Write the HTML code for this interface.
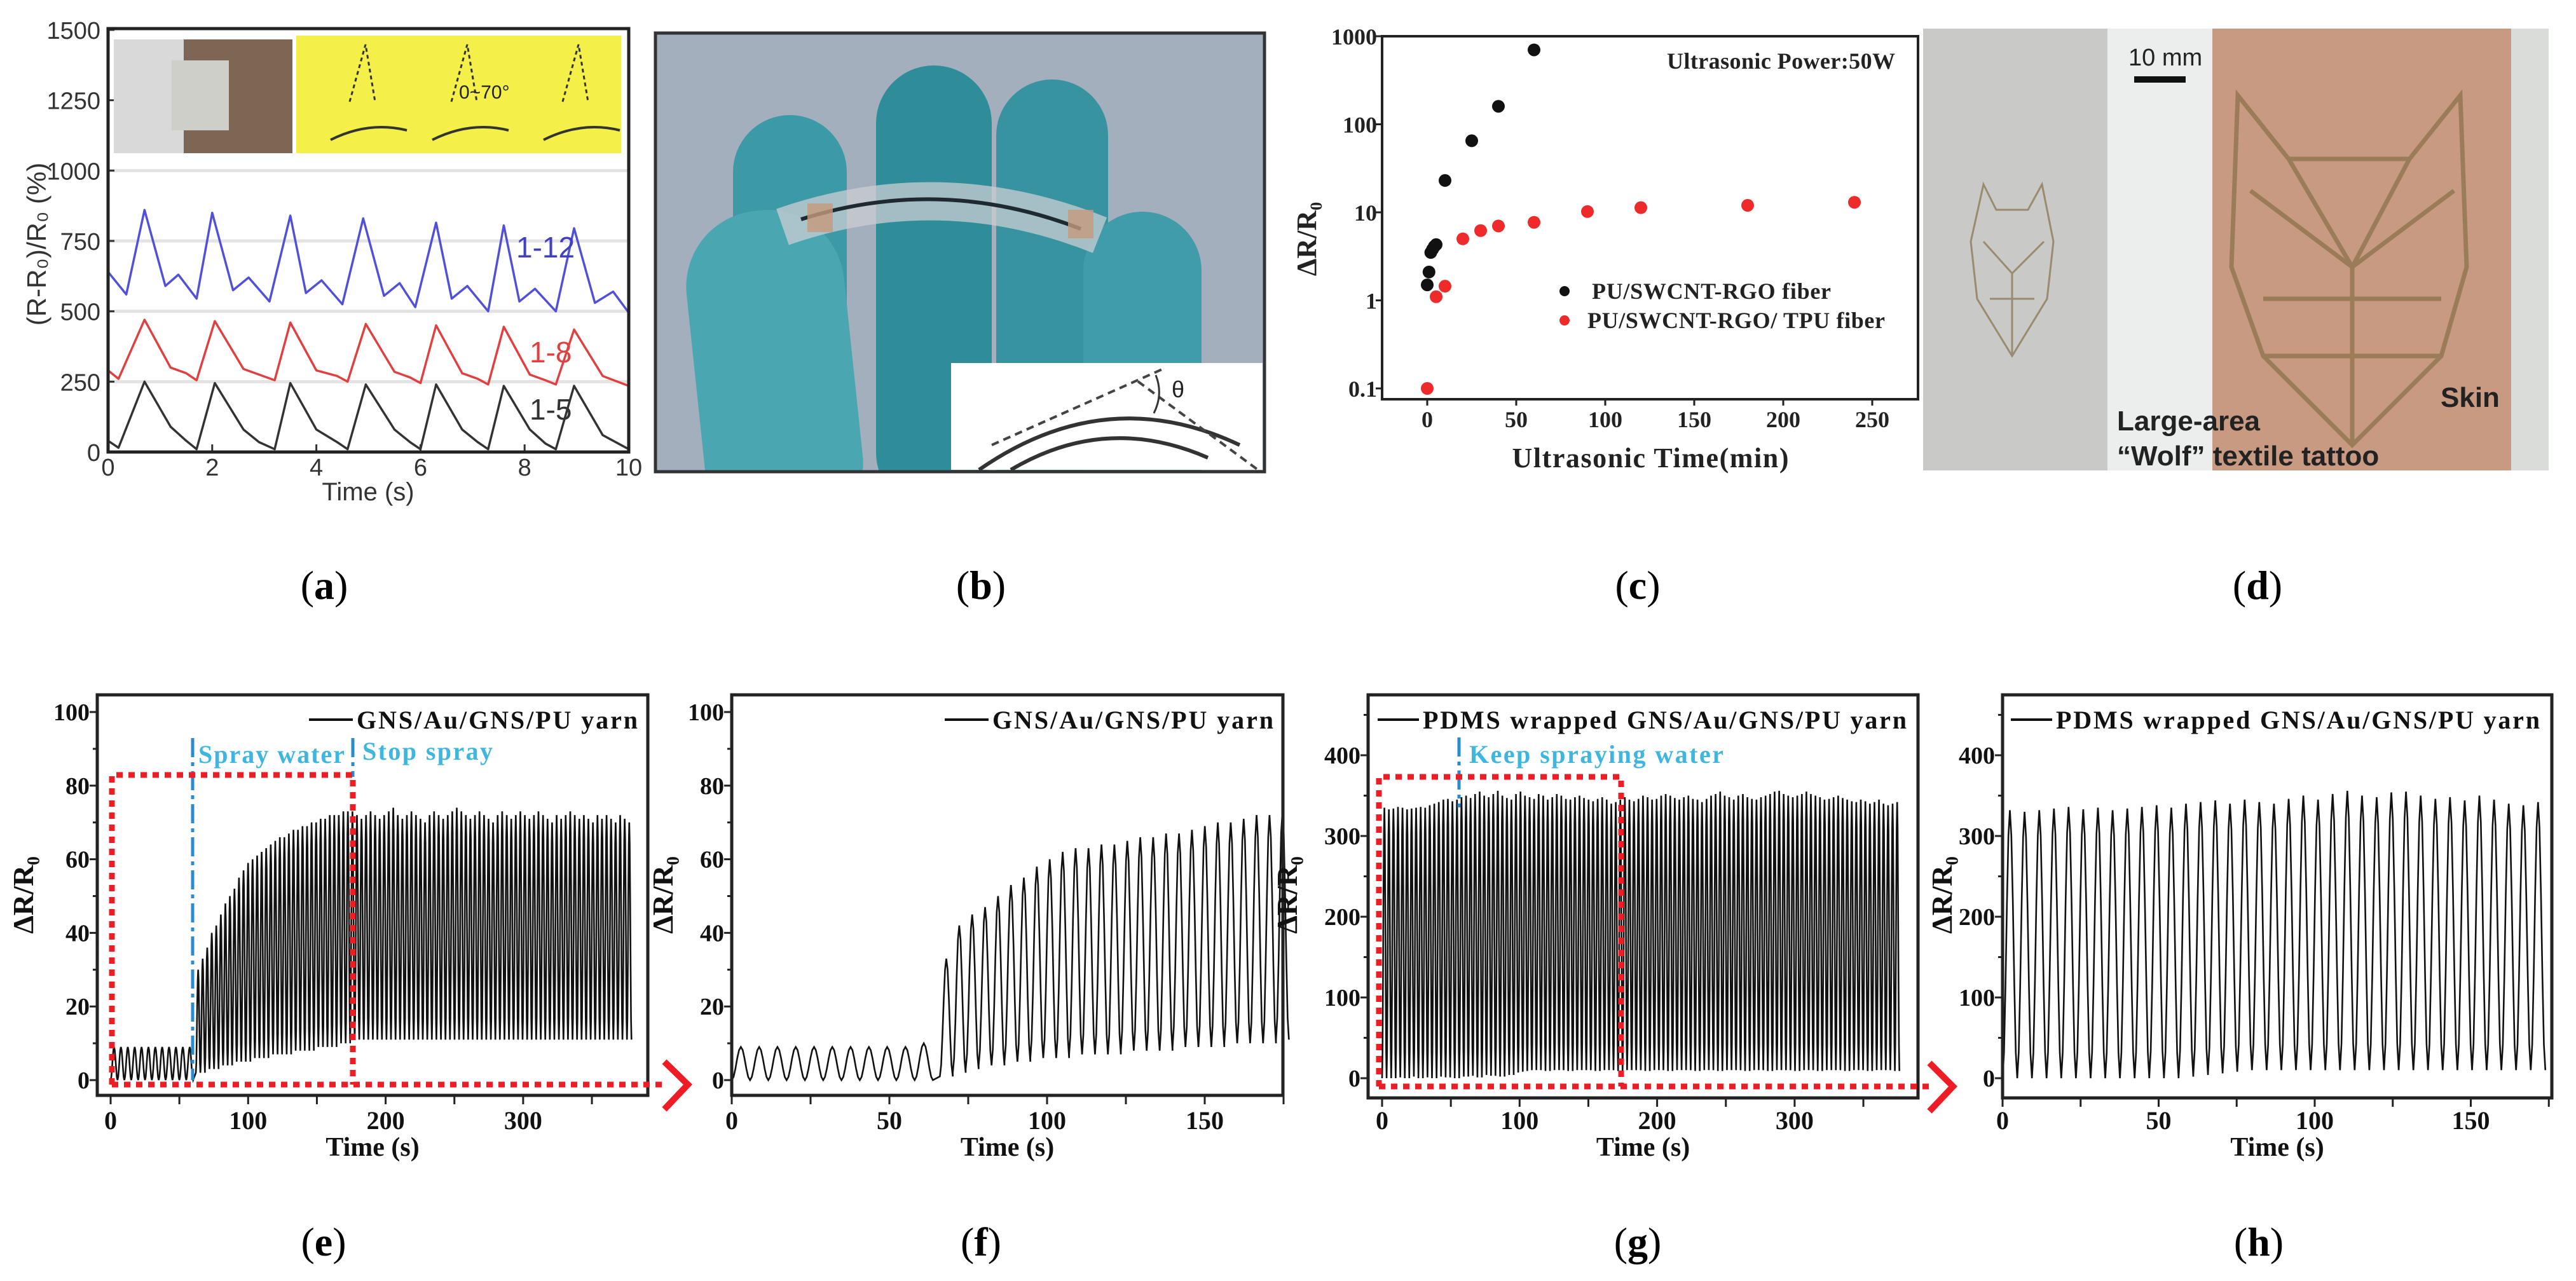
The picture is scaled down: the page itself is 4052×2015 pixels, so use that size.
<!DOCTYPE html>
<html><head><meta charset="utf-8"><title>Composite sensor figure</title>
<style>
html,body{margin:0;padding:0;background:#fff;}
svg{display:block;}
.ser{font-family:"Liberation Serif",serif;font-weight:bold;}
.san{font-family:"Liberation Sans",sans-serif;}
.lbl{font-family:"Liberation Serif",serif;font-size:64px;}
</style></head>
<body>
<svg id="fig" width="4052" height="2015" viewBox="0 0 4052 2015" xmlns="http://www.w3.org/2000/svg">
<defs>
  <clipPath id="clipB"><rect x="1031" y="52" width="958" height="690"/></clipPath>
</defs>
<rect x="0" y="0" width="4052" height="2015" fill="#fff"/>

<!-- panel b photo -->
<g>
  <rect x="1031" y="52" width="958" height="690" fill="#a3afbd"/>
  <g clip-path="url(#clipB)">
    <rect x="1378" y="103" width="182" height="700" rx="91" fill="#2f8c99"/>
    <rect x="1567" y="125" width="176" height="700" rx="88" fill="#37939f"/>
    <rect x="1153" y="181" width="179" height="650" rx="90" fill="#3c9aa6"/>
    <rect x="1704" y="333" width="186" height="500" rx="93" fill="#3f9ca8"/>
    <rect x="1094" y="330" width="249" height="520" rx="120" fill="#4aa7b2" transform="rotate(-6 1218 590)"/>
    <path d="M1231 357 Q1480 270 1730 370" stroke="#c9ced2" stroke-width="60" fill="none" opacity="0.75"/>
    <path d="M1260 345 Q1480 275 1700 360" stroke="#1e2a30" stroke-width="6" fill="none"/>
    <rect x="1270" y="320" width="40" height="45" fill="#c79a7c" opacity="0.8"/>
    <rect x="1680" y="330" width="40" height="45" fill="#c79a7c" opacity="0.8"/>
  </g>
  <rect x="1031" y="52" width="958" height="690" fill="none" stroke="#333" stroke-width="5"/>
  <rect x="1496" y="571" width="490" height="168" fill="#fff"/>
  <path d="M1540 739 Q1740 600 1950 700" stroke="#333" stroke-width="6" fill="none"/>
  <path d="M1590 739 Q1740 650 1900 720" stroke="#333" stroke-width="6" fill="none"/>
  <path d="M1560 700 L1830 580" stroke="#444" stroke-width="4" stroke-dasharray="12 8"/>
  <path d="M1790 600 L1980 740" stroke="#444" stroke-width="4" stroke-dasharray="12 8"/>
  <path d="M1818 590 Q1830 620 1815 650" stroke="#333" stroke-width="3" fill="none"/>
  <text x="1843" y="625" class="san" font-size="36" fill="#222">θ</text>
</g>

<!-- panel d photo -->
<g>
  <rect x="3025" y="45" width="290" height="695" fill="#c9c9c7"/>
  <rect x="3315" y="45" width="165" height="695" fill="#eceeee"/>
  <rect x="3480" y="45" width="470" height="695" fill="#c99a82"/>
  <rect x="3950" y="45" width="59" height="695" fill="#d9dcd8"/>
  <g stroke="#9a8b6e" stroke-width="3" fill="none">
    <path d="M3120 290 L3140 330 L3190 330 L3212 290 L3230 380 L3220 470 L3165 560 L3110 470 L3100 380 Z"/>
    <path d="M3120 380 L3165 430 L3215 380 M3165 430 L3165 560 M3130 470 L3200 470"/>
  </g>
  <g stroke="#9b7c58" stroke-width="7" fill="none">
    <path d="M3520 150 L3600 250 L3790 250 L3870 150 L3880 420 L3840 560 L3700 700 L3560 560 L3510 420 Z"/>
    <path d="M3540 300 L3700 420 L3860 300 M3700 420 L3700 700 M3560 470 L3840 470 M3600 250 L3700 420 L3790 250 M3560 560 L3840 560"/>
  </g>
  <text x="3348" y="103" class="san" font-size="38" fill="#222">10 mm</text>
  <rect x="3357" y="120" width="81" height="10" fill="#111"/>
  <text x="3839" y="640" class="san" font-size="44" font-weight="bold" fill="#222">Skin</text>
  <text x="3330" y="677" class="san" font-size="44" font-weight="bold" fill="#222">Large-area</text>
  <text x="3330" y="732" class="san" font-size="44" font-weight="bold" fill="#222">“Wolf” textile tattoo</text>
</g>

<!-- panel labels -->
<text x="510" y="942" text-anchor="middle" class="lbl">(<tspan font-weight="bold">a</tspan>)</text>
<text x="1543" y="942" text-anchor="middle" class="lbl">(<tspan font-weight="bold">b</tspan>)</text>
<text x="2576" y="942" text-anchor="middle" class="lbl">(<tspan font-weight="bold">c</tspan>)</text>
<text x="3551" y="942" text-anchor="middle" class="lbl">(<tspan font-weight="bold">d</tspan>)</text>
<text x="509" y="1975" text-anchor="middle" class="lbl">(<tspan font-weight="bold">e</tspan>)</text>
<text x="1543" y="1975" text-anchor="middle" class="lbl">(<tspan font-weight="bold">f</tspan>)</text>
<text x="2576" y="1975" text-anchor="middle" class="lbl">(<tspan font-weight="bold">g</tspan>)</text>
<text x="3553" y="1975" text-anchor="middle" class="lbl">(<tspan font-weight="bold">h</tspan>)</text>

<g id="charts"></g>
</svg>

<script>
// ---------- panel a data ----------
const aTime   = [0,0.2,0.7,1.2,1.5,1.7,2.05,2.6,2.9,3.2,3.5,4.0,4.4,4.6,4.95,5.5,5.8,6.0,6.3,6.8,7.1,7.3,7.6,8.1,8.4,8.6,8.95,9.5,10];
const a15     = [40,15,250,90,40,10,245,80,35,10,245,80,35,10,240,80,35,10,240,80,35,10,235,80,30,10,235,60,10];
const a18     = [290,260,470,300,280,255,465,295,275,255,460,290,270,250,455,285,265,245,450,280,260,240,445,275,255,240,435,270,235];
const a112Time= [0,0.35,0.7,1.1,1.35,1.7,2.0,2.4,2.7,3.1,3.5,3.8,4.1,4.5,4.9,5.3,5.6,5.9,6.3,6.6,6.9,7.3,7.6,7.9,8.2,8.6,8.95,9.35,9.7,10];
const a112    = [640,560,860,590,630,545,850,575,620,535,840,565,610,525,830,555,600,515,815,545,590,500,805,535,580,500,795,530,570,495];
const aYTicks = [0,250,500,750,1000,1250,1500];
const aXTicks = [0,2,4,6,8,10];

// ---------- panel c data ----------
const cBlackT = [0,1,2,3,4,5,10,25,40,60];
const cBlackV = [1.5,2.1,3.5,3.8,4.1,4.3,23,65,160,700];
const cRedT   = [0,5,10,20,30,40,60,90,120,180,240];
const cRedV   = [0.1,1.1,1.45,5,6.2,7,7.7,10.2,11.3,12,13];
const cYTicks = [0.1,1,10,100,1000];
const cYLabels= ["0.1","1","10","100","1000"];
const cXTicks = [0,50,100,150,200,250];

// ---------- panel e data ----------
const eSegStart  = [0,62,174.2];
const eSegPeriod = [5,3.3,3.3];
const ePeaks1 = [9,9,9,9,9,9,9,9,9,9,9,9];
const eTroughs1 = [0,0,0,0,0,0,0,0,0,0,0,0];
const ePeaks2 = [30,33,36,40,42,45,48,50,52,55,57,59,60,61,62,63,64,65,66,66,67,68,68,69,69,70,70,71,71,72,72,72,73,73];
const eTroughs2 = [2,2,3,3,3,4,4,4,5,5,5,5,6,6,6,6,7,7,7,7,7,8,8,8,8,8,9,9,9,9,9,10,10,10];
const ePeaks3 = [73,72,71,72,73,72,71,72,73,74,72,71,72,73,72,71,70,72,73,72,71,72,73,74,73,72,71,72,73,72,71,70,72,73,72,71,72,73,72,71,72,73,72,71,70,72,71,72,73,72,71,72,71,70,72,71,72,71,70,72,71,70];
const eTroughs3 = [11,11,11,11,11,11,11,11,11,11,11,11,11,11,11,11,11,11,11,11,11,11,11,11,11,11,11,11,11,11,11,11,11,11,11,11,11,11,11,11,11,11,11,11,11,11,11,11,11,11,11,11,11,11,11,11,11,11,11,11,11,11];
const eYTicks = [0,20,40,60,80,100];
const eXTicks = [0,100,200,300];

// ---------- panel f data ----------
const fSegStart  = [0,66];
const fSegPeriod = [5.8,4.1];
const fPeaks1 = [9,9,9,9,9,9,9,9,9,9,10];
const fTroughs1 = [0,0,0,0,0,0,0,0,0,0,0];
const fPeaks2 = [33,42,45,47,50,53,55,58,60,62,63,63,64,64,65,66,66,67,67,68,69,70,70,71,72,72,73];
const fTroughs2 = [1,2,3,4,4,5,5,6,6,6,7,7,7,7,8,8,8,8,9,9,9,9,10,10,10,10,11];
const fXTicks = [0,50,100,150];

// ---------- panel g data ----------
const gSegStart  = [0];
const gSegPeriod = [3.3];
const gPeaks = [335,333,334,336,335,333,334,335,336,335,338,340,342,345,346,343,345,348,350,347,352,355,350,348,352,356,350,347,345,352,355,350,348,346,352,350,345,348,352,350,346,345,348,350,347,345,343,346,348,345,
 340,342,345,348,345,343,346,350,348,345,346,350,352,350,347,345,348,350,346,345,342,346,350,352,355,350,348,345,350,352,348,346,345,348,350,352,355,356,352,350,348,350,352,355,352,350,348,345,346,348,350,347,345,343,342,345,343,340,342,345,340,338,340,342];
const gTroughs = [0,2,0,3,1,0,2,4,0,3,1,0,2,5,1,3,0,4,2,5,3,1,4,6,3,5,2,6,4,7,
 8,9,10,10,11,10,9,10,11,10,10,9,10,11,10,10,10,9,10,11,10,10,9,10,11,10,10,10,9,10,11,10,10,9,10,11,10,10,10,9,10,11,10,10,9,10,11,10,10,10,9,10,11,10,10,9,10,11,10,10,10,9,10,11,10,10,9,10,11,10,10,10,9,10,11,10,10,9,10,11,10,10,10,9];
const gYTicks = [0,100,200,300,400];
const gXTicks = [0,100,200,300];

// ---------- panel h data ----------
const hSegStart  = [0];
const hSegPeriod = [4.7];
const hPeaks = [332,330,332,334,336,333,335,332,334,336,338,335,340,342,344,340,345,342,340,346,350,345,352,356,350,348,354,355,350,346,348,344,350,345,340,338,342];
const hTroughs = [0,0,0,0,0,0,0,0,0,0,2,0,2,4,6,8,10,10,10,10,10,10,10,10,10,10,10,10,10,10,10,10,10,10,10,10,10];
const hXTicks = [0,50,100,150];

const NS = "http://www.w3.org/2000/svg";
const root = document.getElementById('charts');
function mk(tag, attrs, parent){
  const e = document.createElementNS(NS, tag);
  for (const k in attrs) e.setAttribute(k, attrs[k]);
  (parent||root).appendChild(e);
  return e;
}
function txt(s, attrs, parent){ const t = mk('text', attrs, parent); t.textContent = s; return t; }

function frame(g, L, T, R, B, sw){
  const r = mk('rect', {x:L, y:T, width:R-L, height:B-T, fill:'none', stroke:'#222', 'stroke-width':sw}, g);
  
  
}

// ===== Panel a =====
(function(){
  const g = mk('g', {});
  
  
  const L=170, R=989, T=45, B=711;
  const x = t => L + t*(R-L)/10;
  const y = v => B - v*(B-47)/1500;
  aYTicks.forEach(v=>{
    if (v>0 && v<=1000) mk('line',{x1:L,x2:R,y1:y(v),y2:y(v),stroke:'#e3e3e3','stroke-width':5},g);
    const tk = txt(String(v), {x:L-12, y:y(v)+14, 'text-anchor':'end', class:'san', 'font-size':38, fill:'#333'}, g);
    
    
    mk('line',{x1:L,x2:L+10,y1:y(v),y2:y(v),stroke:'#333','stroke-width':3},g);
  });
  aXTicks.forEach(v=>{
    const tk = txt(String(v), {x:x(v), y:748, 'text-anchor':'middle', class:'san', 'font-size':38, fill:'#333'}, g);
    
    
    mk('line',{x1:x(v),x2:x(v),y1:B,y2:B-12,stroke:'#333','stroke-width':3},g);
  });
  const ph = mk('rect',{x:179,y:62,width:281,height:179,fill:'#7d6654'},g);
  
  
  mk('rect',{x:179,y:62,width:110,height:179,fill:'#d9d9d9'},g);
  mk('rect',{x:270,y:95,width:90,height:110,fill:'#cfcfc9'},g);
  const yl = mk('rect',{x:466,y:56,width:511,height:185,fill:'#f5ef4a'},g);
  
  
  [[520,230],[680,230],[855,230]].forEach(p=>{
    mk('path',{d:`M${p[0]} ${p[1]-10} Q${p[0]+60} ${p[1]-40} ${p[0]+120} ${p[1]-25}`,stroke:'#333','stroke-width':4,fill:'none'},g);
    mk('path',{d:`M${p[0]+30} ${p[1]-70} L${p[0]+55} ${p[1]-160} L${p[0]+70} ${p[1]-70}`,stroke:'#333','stroke-width':3,fill:'none','stroke-dasharray':'6 5'},g);
  });
  txt('0~70°',{x:722,y:155,class:'san','font-size':30,fill:'#222'},g);
  function series(ts, vs, col, name){
    const p = mk('polyline',{points:ts.map((t,i)=>x(t)+','+y(vs[i])).join(' '),fill:'none',stroke:col,'stroke-width':3.5,'stroke-linejoin':'round'},g);
    
    
  }
  series(aTime, a15, '#333', 'series-1-5');
  series(aTime, a18, '#e04040', 'series-1-8');
  series(a112Time, a112, '#5050d8', 'series-1-12');
  const l1 = txt('1-12',{x:812,y:405,class:'san','font-size':46,fill:'#4040c0'},g);
   
  const l2 = txt('1-8',{x:833,y:570,class:'san','font-size':46,fill:'#e04040'},g);
   
  const l3 = txt('1-5',{x:833,y:660,class:'san','font-size':46,fill:'#333'},g);
   
  frame(g, L, T, R, B, 5);
  const xt = txt('Time (s)',{x:579,y:787,'text-anchor':'middle',class:'san','font-size':40,fill:'#333'},g);
   
  const yt = txt('(R-R\u2080)/R\u2080 (%)',{x:0,y:0,'text-anchor':'middle',class:'san','font-size':42,fill:'#333',transform:'translate(72,384) rotate(-90)'},g);
   
})();

// ===== Panel c =====
(function(){
  const g = mk('g', {});
  
  
  const L=2174, R=3017, T=57, B=628;
  const x = t => 2245 + t*2.8;
  const y = v => 611 - (Math.log10(v)+1)*138.5;
  frame(g, L, T, R, B, 4);
  cYTicks.forEach((v,i)=>{
    mk('line',{x1:L,x2:L-10,y1:y(v),y2:y(v),stroke:'#222','stroke-width':3},g);
    const tk = txt(cYLabels[i],{x:L-8,y:y(v)+13,'text-anchor':'end',class:'ser','font-size':36,fill:'#222'},g);
     
  });
  cXTicks.forEach(v=>{
    mk('line',{x1:x(v),x2:x(v),y1:B,y2:B+10,stroke:'#222','stroke-width':3},g);
    const tk = txt(String(v),{x:x(v),y:672,'text-anchor':'middle',class:'ser','font-size':36,fill:'#222'},g);
     
  });
  cBlackT.forEach((t,i)=>{
    const c = mk('circle',{cx:x(t),cy:y(cBlackV[i]),r:10,fill:'#111'},g);
     
  });
  cRedT.forEach((t,i)=>{
    const c = mk('circle',{cx:x(t),cy:y(cRedV[i]),r:10,fill:'#ee2a2a'},g);
     
  });
  const pw = txt('Ultrasonic Power:50W',{x:2622,y:108,class:'ser','font-size':36,fill:'#222',textLength:359},g);
   
  mk('circle',{cx:2461,cy:458,r:8,fill:'#111'},g);
  const l1 = txt('PU/SWCNT-RGO fiber',{x:2504,y:470,class:'ser','font-size':36,fill:'#222',textLength:376},g);
   
  mk('circle',{cx:2461,cy:504,r:8,fill:'#ee2a2a'},g);
  const l2 = txt('PU/SWCNT-RGO/ TPU fiber',{x:2497,y:516,class:'ser','font-size':36,fill:'#222',textLength:468},g);
   
  const xt = txt('Ultrasonic Time(min)',{x:2596,y:735,'text-anchor':'middle',class:'ser','font-size':44,fill:'#222',textLength:435},g);
   
  const yt = txt('ΔR/R\u2080',{x:0,y:0,'text-anchor':'middle',class:'ser','font-size':44,fill:'#222',transform:'translate(2070,376) rotate(-90)'},g);
   
})();

// ===== Bottom row generic =====
function wavePoints(x, y, starts, periods, peakSets, troughSets){
  const pts = [];
  starts.forEach((s,k)=>{
    const P = periods[k], pk = peakSets[k], tr = troughSets[k];
    for (let i=0;i<pk.length;i++){
      const t0 = s + i*P;
      for (let j=0;j<=10;j++){
        const f = j/10;
        const v = tr[i] + (pk[i]-tr[i])*(1-Math.cos(2*Math.PI*f))/2;
        pts.push(x(t0+f*P).toFixed(1)+','+y(v).toFixed(1));
      }
    }
  });
  return pts.join(' ');
}
function bottomPanel(opt){
  const g = mk('g', {});
  
  
  const {L,R,T,B,x,y} = opt;
  opt.minorX.forEach(v=>{ mk('line',{x1:x(v),x2:x(v),y1:B,y2:B+14,stroke:'#222','stroke-width':3},g); });
  opt.xTicks.forEach(v=>{
    const tk = txt(String(v),{x:x(v),y:1776,'text-anchor':'middle',class:'ser','font-size':40,fill:'#111'},g);
     
  });
  opt.yTicks.forEach(v=>{
    mk('line',{x1:L,x2:L-12,y1:y(v),y2:y(v),stroke:'#222','stroke-width':3},g);
    const tk = txt(String(v),{x:L-12,y:y(v)+13,'text-anchor':'end',class:'ser','font-size':38,fill:'#111'},g);
     
  });
  opt.minorY.forEach(v=>{ mk('line',{x1:L,x2:L-7,y1:y(v),y2:y(v),stroke:'#222','stroke-width':3},g); });
  const ln = mk('polyline',{points:wavePoints(x,y,opt.starts,opt.periods,opt.peaks,opt.troughs),fill:'none',stroke:'#111','stroke-width':2.6},g);
  
  
  frame(g, L, T, R, B, 5);
  mk('line',{x1:opt.legX,x2:opt.legX+opt.legLine,y1:1132,y2:1132,stroke:'#111','stroke-width':4},g);
  const lg = txt(opt.legend,{x:opt.legX+opt.legLine+6,y:1146,class:'ser','font-size':40,fill:'#111',textLength:opt.legLen},g);
   
  const xt = txt('Time (s)',{x:(L+R)/2,y:1818,'text-anchor':'middle',class:'ser','font-size':42,fill:'#111'},g);
   
  const yt = txt('ΔR/R\u2080',{x:0,y:0,'text-anchor':'middle',class:'ser','font-size':46,fill:'#111',transform:`translate(${opt.yTitleX},1408) rotate(-90)`},g);
   
  return g;
}
function range(a,b,s){const r=[];for(let v=a;v<=b;v+=s)r.push(v);return r;}

bottomPanel({name:'panel-e-chart',L:153,R:1019,T:1093,B:1723,
  x:t=>174+t*2.163, y:v=>1699-v*5.79,
  xTicks:eXTicks, minorX:range(0,350,50), yTicks:eYTicks, minorY:range(10,90,20),
  starts:eSegStart, periods:eSegPeriod, peaks:[ePeaks1,ePeaks2,ePeaks3], troughs:[eTroughs1,eTroughs2,eTroughs3],
  legX:486, legLine:69, legend:'GNS/Au/GNS/PU yarn', legLen:442, yTitleX:52});
bottomPanel({name:'panel-f-chart',L:1151,R:2018,T:1093,B:1723,
  x:t=>1151+t*4.96, y:v=>1699-v*5.79,
  xTicks:fXTicks, minorX:range(0,175,25), yTicks:eYTicks, minorY:range(10,90,20),
  starts:fSegStart, periods:fSegPeriod, peaks:[fPeaks1,fPeaks2], troughs:[fTroughs1,fTroughs2],
  legX:1486, legLine:69, legend:'GNS/Au/GNS/PU yarn', legLen:442, yTitleX:1058});
bottomPanel({name:'panel-g-chart',L:2152,R:3017,T:1093,B:1727,
  x:t=>2174+t*2.163, y:v=>1696-v*1.27,
  xTicks:gXTicks, minorX:range(0,350,50), yTicks:gYTicks, minorY:range(50,450,100),
  starts:gSegStart, periods:gSegPeriod, peaks:[gPeaks], troughs:[gTroughs],
  legX:2167, legLine:65, legend:'PDMS wrapped GNS/Au/GNS/PU yarn', legLen:761, yTitleX:2040});
bottomPanel({name:'panel-h-chart',L:3150,R:4014,T:1093,B:1727,
  x:t=>3150+t*4.91, y:v=>1696-v*1.27,
  xTicks:hXTicks, minorX:range(0,175,25), yTicks:gYTicks, minorY:range(50,450,100),
  starts:hSegStart, periods:hSegPeriod, peaks:[hPeaks], troughs:[hTroughs],
  legX:3163, legLine:65, legend:'PDMS wrapped GNS/Au/GNS/PU yarn', legLen:761, yTitleX:3070});

(function(){
  const g = mk('g', {});
  
  
  mk('line',{x1:303,x2:303,y1:1161,y2:1699,stroke:'#2a8bd0','stroke-width':5,'stroke-dasharray':'30 8 6 8'},g);
  mk('line',{x1:555,x2:555,y1:1161,y2:1222,stroke:'#2a8bd0','stroke-width':5,'stroke-dasharray':'30 8 6 8'},g);
  const s1 = txt('Spray water',{x:312,y:1200,class:'ser','font-size':40,fill:'#3fb6e0',textLength:230},g);
   
  const s2 = txt('Stop spray',{x:570,y:1195,class:'ser','font-size':40,fill:'#3fb6e0',textLength:205},g);
   
  const bx = mk('path',{d:'M176 1706 L176 1219 L555 1219 L555 1706 M176 1706 L1050 1706',fill:'none',stroke:'#ee1c24','stroke-width':9,'stroke-dasharray':'10 9'},g);
   
  const ar = mk('path',{d:'M1045 1670 L1082 1706 L1045 1745',fill:'none',stroke:'#ee1c24','stroke-width':10},g);
   
})();
(function(){
  const g = mk('g', {});
  
  
  mk('line',{x1:2295,x2:2295,y1:1160,y2:1270,stroke:'#2a8bd0','stroke-width':5,'stroke-dasharray':'30 8 6 8'},g);
  const s1 = txt('Keep spraying water',{x:2311,y:1200,class:'ser','font-size':40,fill:'#3fb6e0',textLength:400},g);
   
  const bx = mk('path',{d:'M2169 1709 L2169 1222 L2550 1222 L2550 1709 M2169 1709 L3040 1709',fill:'none',stroke:'#ee1c24','stroke-width':9,'stroke-dasharray':'10 9'},g);
   
  const ar = mk('path',{d:'M3035 1672 L3072 1709 L3035 1748',fill:'none',stroke:'#ee1c24','stroke-width':10},g);
   
})();
</script>
</body></html>
